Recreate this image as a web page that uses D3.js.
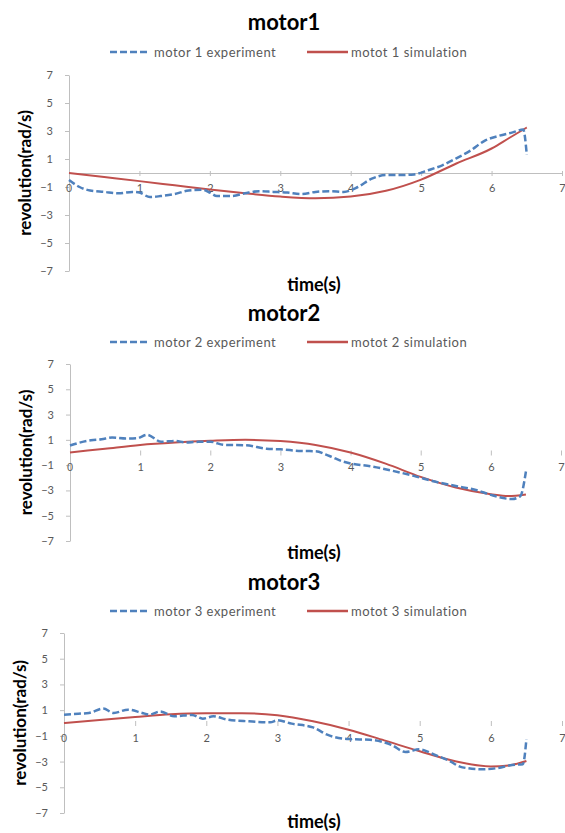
<!DOCTYPE html>
<html>
<head>
<meta charset="utf-8">
<script src="https://cdn.jsdelivr.net/npm/d3@7"></script>
<style>
  body { margin: 0; background: #fff; }
  svg { display: block; font-family: Lato, "Open Sans", sans-serif; }
</style>
</head>
<body>
<div id="chart"></div>
<script>
// simulation curves share one time base
var simTime = [0, 0.5, 1, 1.5, 2, 2.5, 3, 3.5, 4, 4.5, 5, 5.5, 6, 6.25, 6.5];
var motor1Sim = [0, -0.29, -0.58, -0.88, -1.18, -1.45, -1.68, -1.8, -1.68, -1.27, -0.47, 0.68, 1.75, 2.5, 3.25];
var motor2Sim = [0, 0.3, 0.6, 0.79, 0.92, 1.0, 0.9, 0.6, 0.0, -0.88, -1.93, -2.77, -3.3, -3.45, -3.32];
var motor3Sim = [0, 0.24, 0.47, 0.68, 0.76, 0.76, 0.6, 0.13, -0.52, -1.35, -2.2, -2.98, -3.38, -3.3, -2.95];

// experiment curves
var motor1ExpTime = [0, 0.15, 0.3, 0.5, 0.7, 0.9, 1.0, 1.15, 1.3, 1.5, 1.7, 1.9, 2.0, 2.1, 2.3, 2.5, 2.7, 2.9, 3.1, 3.3, 3.5, 3.7, 3.9, 4.1, 4.3, 4.5, 4.7, 4.9, 5.1, 5.3, 5.5, 5.7, 5.9, 6.1, 6.3, 6.45, 6.5];
var motor1Exp = [-0.5, -1.0, -1.25, -1.35, -1.45, -1.35, -1.4, -1.72, -1.65, -1.5, -1.25, -1.2, -1.4, -1.65, -1.65, -1.45, -1.3, -1.35, -1.4, -1.5, -1.35, -1.3, -1.35, -1.0, -0.4, -0.15, -0.15, -0.1, 0.2, 0.55, 1.05, 1.6, 2.3, 2.65, 2.9, 3.1, 1.3];

var motor2ExpTime = [0, 0.15, 0.3, 0.45, 0.6, 0.8, 0.95, 1.1, 1.3, 1.5, 1.65, 1.8, 2.0, 2.2, 2.5, 2.8, 3.0, 3.3, 3.5, 3.7, 3.9, 4.0, 4.3, 4.6, 4.9, 5.2, 5.5, 5.8, 6.0, 6.3, 6.42, 6.5];
var motor2Exp = [0.55, 0.8, 0.97, 1.05, 1.18, 1.1, 1.12, 1.4, 0.85, 0.92, 0.8, 0.84, 0.85, 0.6, 0.57, 0.3, 0.25, 0.12, 0.1, -0.28, -0.73, -0.87, -1.1, -1.45, -1.85, -2.3, -2.65, -2.98, -3.35, -3.68, -3.45, -1.5];

var motor3ExpTime = [0, 0.2, 0.35, 0.55, 0.7, 0.9, 1.1, 1.2, 1.35, 1.55, 1.8, 1.95, 2.1, 2.3, 2.6, 2.9, 3.0, 3.2, 3.5, 3.7, 4.0, 4.3, 4.6, 4.8, 5.0, 5.2, 5.4, 5.6, 5.9, 6.1, 6.3, 6.45, 6.5];
var motor3Exp = [0.65, 0.72, 0.78, 1.12, 0.78, 1.04, 0.78, 0.65, 0.89, 0.52, 0.63, 0.34, 0.52, 0.26, 0.13, 0.05, 0.21, -0.05, -0.34, -0.91, -1.25, -1.3, -1.7, -2.25, -2.05, -2.45, -2.9, -3.45, -3.6, -3.5, -3.26, -3.2, -1.25];

var titles = ["motor1", "motor2", "motor3"];
var expLabels = ["motor 1 experiment", "motor 2 experiment", "motor 3 experiment"];
var simLabels = ["motot 1 simulation", "motot 2 simulation", "motot 3 simulation"];
var xTicks = [1, 2, 3, 4, 5, 6, 7];
var yTicks = [7, 5, 3, 1, -1, -3, -5, -7];

// where each panel sits on the page
var panels = [
  {titleY: 22, legendY: 52, left: 69, right: 562, top: 75, bottom: 271, xTitleY: 285, axisLine: true,
   expT: motor1ExpTime, expV: motor1Exp, simV: motor1Sim},
  {titleY: 313, legendY: 342, left: 70, right: 561, top: 364, bottom: 541, xTitleY: 553, axisLine: false,
   expT: motor2ExpTime, expV: motor2Exp, simV: motor2Sim},
  {titleY: 582, legendY: 611, left: 64, right: 562, top: 633, bottom: 813, xTitleY: 822, axisLine: false,
   expT: motor3ExpTime, expV: motor3Exp, simV: motor3Sim}
];

var width = 565, height = 833;
var blue = "#4f81bd", red = "#c0504d", axisGray = "#bfbfbf", textGray = "#595959";

var svg = d3.select("#chart").append("svg")
    .attr("width", width)
    .attr("height", height);

panels.forEach(function(p, i) {
  var x = d3.scaleLinear().domain([0, 7]).range([p.left, p.right]);
  var y = d3.scaleLinear().domain([-7, 7]).range([p.bottom, p.top]);
  var g = svg.append("g");

  // title
  g.append("text")
    .attr("x", 284).attr("y", p.titleY)
    .attr("dy", "0.35em")
    .style("text-anchor", "middle")
    .style("font-weight", "bold")
    .style("font-size", "22px")
    .text(titles[i]);

  // legend
  var leg = g.append("g").attr("transform", "translate(0," + p.legendY + ")");
  leg.append("line").attr("x1", 110).attr("x2", 150)
    .style("stroke", blue).style("stroke-width", 2.5).style("stroke-dasharray", "7,3");
  leg.append("text").attr("x", 154).attr("dy", "0.35em")
    .style("font-size", "13px").style("letter-spacing", "0.5px")
    .style("fill", textGray).text(expLabels[i]);
  leg.append("line").attr("x1", 307).attr("x2", 348)
    .style("stroke", red).style("stroke-width", 2.5);
  leg.append("text").attr("x", 351).attr("dy", "0.35em")
    .style("font-size", "13px").style("letter-spacing", "0.5px")
    .style("fill", textGray).text(simLabels[i]);

  // y axis
  var yAxis = d3.axisLeft(y).tickValues(yTicks).tickFormat(d3.format("d"))
    .tickSize(4).tickPadding(12).tickSizeOuter(0);
  var ya = g.append("g").attr("transform", "translate(" + p.left + ",0)").call(yAxis);
  ya.select(".domain").style("stroke", axisGray);
  ya.selectAll(".tick line").style("stroke", axisGray);
  ya.selectAll(".tick text").style("fill", textGray).style("font-size", "11px")
    .style("font-family", "Lato, sans-serif");

  // x axis crossing at zero, labels just under it
  var xAxis = d3.axisBottom(x).tickValues(xTicks).tickFormat(d3.format("d"))
    .tickSize(3).tickPadding(8).tickSizeOuter(0);
  var xa = g.append("g").attr("transform", "translate(0," + y(0) + ")").call(xAxis);
  xa.select(".domain").style("stroke", p.axisLine ? axisGray : "none");
  xa.selectAll(".tick line").attr("y1", -2).style("stroke", axisGray);
  xa.selectAll(".tick text").style("fill", textGray).style("font-size", "11px")
    .style("font-family", "Lato, sans-serif");
  xa.append("text")
    .attr("x", x(0)).attr("y", 11).attr("dy", "0.71em")
    .style("fill", textGray).style("font-size", "11px").style("text-anchor", "middle")
    .text("0");

  // axis titles
  g.append("text")
    .attr("transform", "translate(" + (p.left - 44) + "," + ((p.top + p.bottom) / 2) + ") rotate(-90)")
    .attr("dy", "0.35em")
    .style("text-anchor", "middle")
    .style("font-weight", "bold")
    .style("font-size", "17px")
    .text("revolution(rad/s)");
  g.append("text")
    .attr("x", 314).attr("y", p.xTitleY).attr("dy", "0.35em")
    .style("text-anchor", "middle")
    .style("font-weight", "bold")
    .style("font-size", "18px")
    .text("time(s)");

  // curves
  var line = d3.line()
    .x(function(d) { return x(d[0]); })
    .y(function(d) { return y(d[1]); })
    .curve(d3.curveMonotoneX);

  var simPts = simTime.map(function(t, k) { return [t, p.simV[k]]; });
  var expPts = p.expT.map(function(t, k) { return [t, p.expV[k]]; });

  g.append("path").datum(simPts)
    .attr("d", line)
    .style("fill", "none").style("stroke", red).style("stroke-width", 2);
  g.append("path").datum(expPts)
    .attr("d", line)
    .style("fill", "none").style("stroke", blue).style("stroke-width", 2.5)
    .style("stroke-dasharray", "7,3");
});
</script>
</body>
</html>
